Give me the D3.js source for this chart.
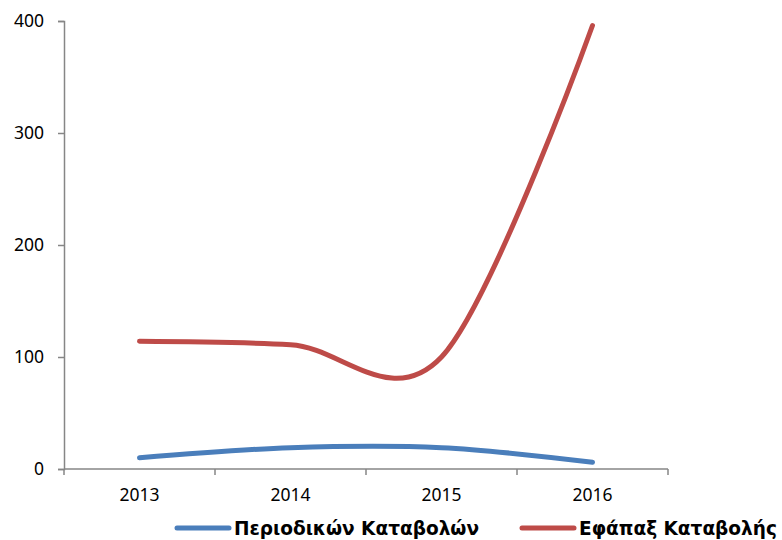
<!DOCTYPE html>
<html>
<head>
<meta charset="utf-8">
<script src="https://cdn.jsdelivr.net/npm/d3@7"></script>
<style>
  body { margin: 0; background: #fff; }
  svg { display: block; }
</style>
</head>
<body>
<div id="chart"></div>
<script>
var years = ["2013", "2014", "2015", "2016"];
var periodic = [10, 19, 19, 6];
var lumpSum = [114, 111, 100, 396];
var yTicks = [0, 100, 200, 300, 400];
var seriesNames = ["Περιοδικών Καταβολών", "Εφάπαξ Καταβολής"];

var width = 782,
    height = 540,
    margin = {top: 21, right: 114, bottom: 71, left: 64};

var svg = d3.select("#chart").append("svg")
    .attr("width", width)
    .attr("height", height);

var x = d3.scaleBand().domain(years).range([margin.left, width - margin.right]);
var y = d3.scaleLinear().domain([0, 400]).range([height - margin.bottom, margin.top]);

var axisColor = "#868686";

/* y axis */
var yAxis = d3.axisLeft(y).tickValues(yTicks).tickSize(6).tickPadding(14);
var gy = svg.append("g")
    .attr("transform", "translate(" + margin.left + ",0)")
    .call(yAxis);
gy.select(".domain").attr("stroke", axisColor).attr("stroke-width", 1.5);
gy.selectAll(".tick line").attr("stroke", axisColor).attr("stroke-width", 1.5);
gy.selectAll(".tick text")
    .attr("font-family", "'Noto Sans', 'Open Sans', sans-serif")
    .attr("font-size", 17.5)
    .attr("fill", "#000");

/* x axis: ticks on band edges */
var gx = svg.append("g")
    .attr("transform", "translate(0," + y(0) + ")");
gx.append("line")
    .attr("x1", margin.left).attr("x2", width - margin.right)
    .attr("stroke", axisColor).attr("stroke-width", 1.5);
var edges = years.map(function(d) { return x(d); }).concat([x(years[years.length - 1]) + x.bandwidth()]);
gx.selectAll(".edge")
    .data(edges)
    .enter().append("line")
    .attr("x1", function(d) { return d; })
    .attr("x2", function(d) { return d; })
    .attr("y1", 0).attr("y2", 6)
    .attr("stroke", axisColor).attr("stroke-width", 1.5);
gx.selectAll("text")
    .data(years)
    .enter().append("text")
    .attr("x", function(d) { return x(d) + x.bandwidth() / 2; })
    .attr("y", 32)
    .attr("text-anchor", "middle")
    .attr("font-family", "'Noto Sans', 'Open Sans', sans-serif")
    .attr("font-size", 17.5)
    .text(function(d) { return d; });

/* lines */
var line = d3.line()
    .x(function(d, i) { return x(years[i]) + x.bandwidth() / 2; })
    .y(function(d) { return y(d); })
    .curve(d3.curveCardinal.tension(0));

var series = [
    {name: seriesNames[0], values: periodic, color: "#4a7ebb"},
    {name: seriesNames[1], values: lumpSum, color: "#be4b48"}
];

svg.selectAll(".series")
    .data(series)
    .enter().append("path")
    .attr("class", "series")
    .attr("d", function(d) { return line(d.values); })
    .attr("fill", "none")
    .attr("stroke", function(d) { return d.color; })
    .attr("stroke-width", 5)
    .attr("stroke-linecap", "round");

/* legend */
var legendX = [177, 522];
var legend = svg.selectAll(".legend")
    .data(series)
    .enter().append("g")
    .attr("class", "legend")
    .attr("transform", function(d, i) { return "translate(" + legendX[i] + ",528)"; });

legend.append("line")
    .attr("x1", 0).attr("x2", 52)
    .attr("stroke", function(d) { return d.color; })
    .attr("stroke-width", 5)
    .attr("stroke-linecap", "round");

legend.append("text")
    .attr("x", 57)
    .attr("y", 6.5)
    .attr("font-family", "'DejaVu Sans', Verdana, sans-serif")
    .attr("font-weight", "bold")
    .attr("font-size", 18.5)
    .text(function(d) { return d.name; });
</script>
</body>
</html>
